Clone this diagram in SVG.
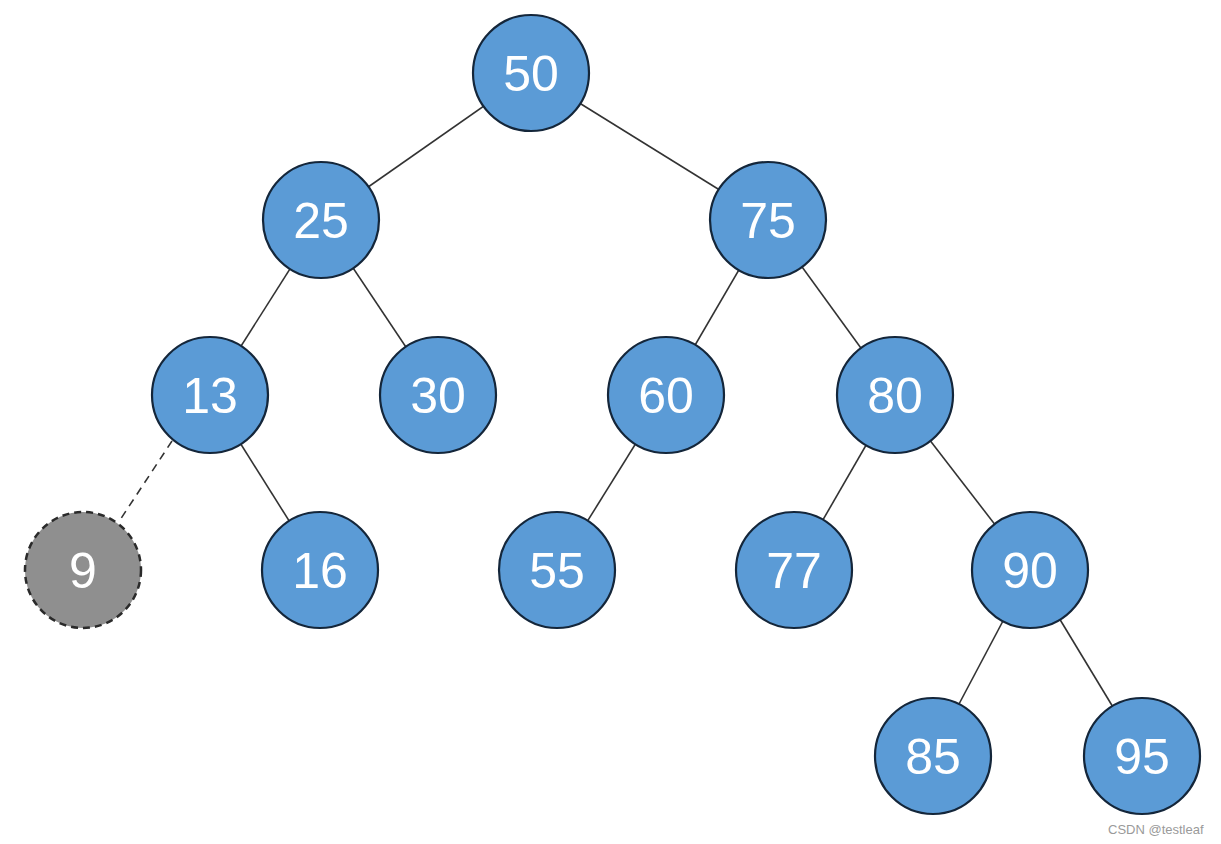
<svg xmlns="http://www.w3.org/2000/svg" width="1221" height="844" viewBox="0 0 1221 844">
<style>
.n circle{fill:#5b9bd6;stroke:#14263a;stroke-width:2.2}
.n text{fill:#fff;font-family:"Liberation Sans",Arial,sans-serif;font-size:50px;text-anchor:middle;dominant-baseline:central}
.g circle{fill:#8f8f8f;stroke:#2a2a2a;stroke-width:2.5;stroke-dasharray:7 5}
#edges line{stroke:#333;stroke-width:1.6}
#edges line.d{stroke-dasharray:8 6}
.wm{fill:#9a9a9a;font-family:"Liberation Sans",Arial,sans-serif;font-size:13px}
</style>
<rect width="1221" height="844" fill="#fff"/>
<g id="edges">
<line x1="531" y1="73" x2="321" y2="220"/>
<line x1="531" y1="73" x2="768" y2="220"/>
<line x1="321" y1="220" x2="210" y2="395"/>
<line x1="321" y1="220" x2="438" y2="395"/>
<line x1="768" y1="220" x2="666" y2="395"/>
<line x1="768" y1="220" x2="895" y2="395"/>
<line class="d" x1="172" y1="441" x2="120" y2="520"/>
<line x1="210" y1="395" x2="320" y2="570"/>
<line x1="666" y1="395" x2="557" y2="570"/>
<line x1="895" y1="395" x2="794" y2="570"/>
<line x1="895" y1="395" x2="1030" y2="570"/>
<line x1="1030" y1="570" x2="932" y2="755"/>
<line x1="1030" y1="570" x2="1142" y2="755"/>
</g>
<g id="n50" class="n"><circle cx="531" cy="73" r="58"/><text x="531" y="74">50</text></g>
<g id="n25" class="n"><circle cx="321" cy="220" r="58"/><text x="321" y="221">25</text></g>
<g id="n75" class="n"><circle cx="768" cy="220" r="58"/><text x="768" y="221">75</text></g>
<g id="n13" class="n"><circle cx="210" cy="395" r="58"/><text x="210" y="396">13</text></g>
<g id="n30" class="n"><circle cx="438" cy="395" r="58"/><text x="438" y="396">30</text></g>
<g id="n60" class="n"><circle cx="666" cy="395" r="58"/><text x="666" y="396">60</text></g>
<g id="n80" class="n"><circle cx="895" cy="395" r="58"/><text x="895" y="396">80</text></g>
<g id="n9" class="n g"><circle cx="83" cy="570" r="58"/><text x="83" y="571">9</text></g>
<g id="n16" class="n"><circle cx="320" cy="570" r="58"/><text x="320" y="571">16</text></g>
<g id="n55" class="n"><circle cx="557" cy="570" r="58"/><text x="557" y="571">55</text></g>
<g id="n77" class="n"><circle cx="794" cy="570" r="58"/><text x="794" y="571">77</text></g>
<g id="n90" class="n"><circle cx="1030" cy="570" r="58"/><text x="1030" y="571">90</text></g>
<g id="n85" class="n"><circle cx="933" cy="756" r="58"/><text x="933" y="757">85</text></g>
<g id="n95" class="n"><circle cx="1142" cy="756" r="58"/><text x="1142" y="757">95</text></g>
<text class="wm" x="1108" y="834">CSDN @testleaf</text>
</svg>
